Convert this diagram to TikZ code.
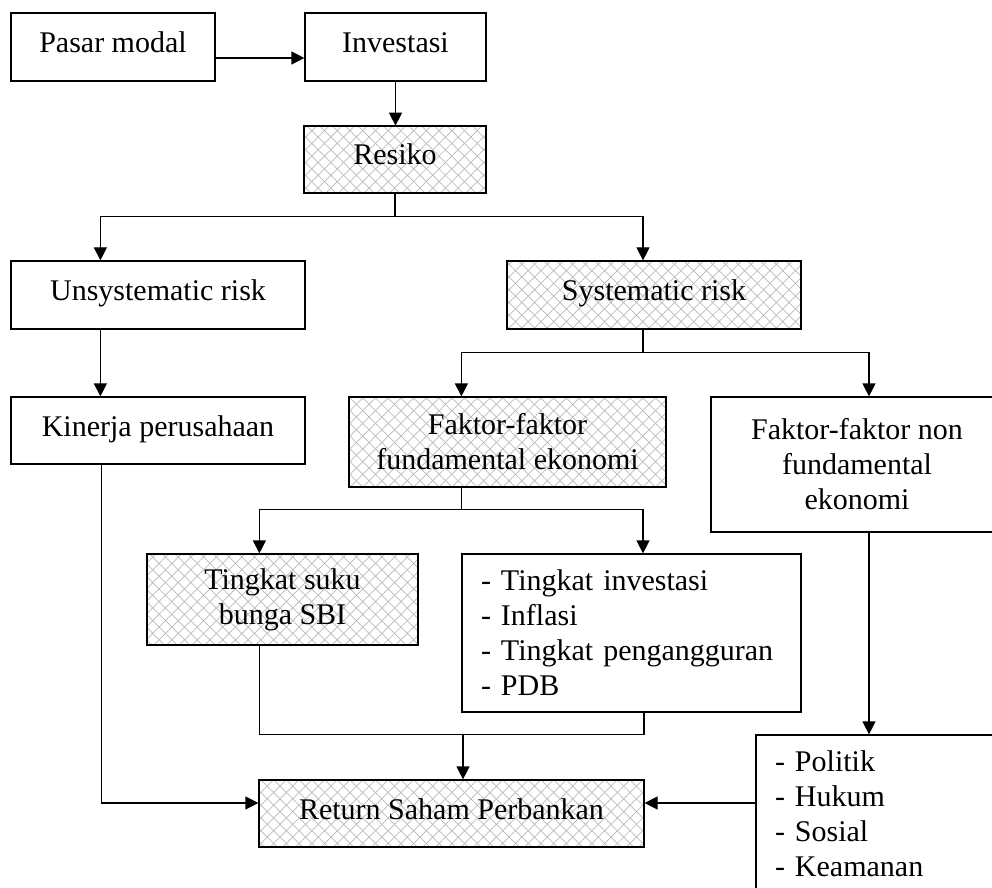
\documentclass[tikz,border=0pt]{standalone}
\usepackage{fontspec}
\setmainfont{Liberation Serif}
\usetikzlibrary{arrows.meta, patterns.meta}

\begin{document}
\begin{tikzpicture}[x=0.5pt, y=-0.5pt, font=\fontsize{15}{17.5}\selectfont,
    box/.style={draw, line width=0.6pt, inner sep=2pt, align=center},
    one/.style={text height=10.5pt, text depth=5pt},
    hatch/.style={box, pattern={Lines[angle=45, distance=4.5pt, line width=0.35pt]}, pattern color=gray!55,
        preaction={pattern={Lines[angle=-45, distance=4.5pt, line width=0.35pt]}, pattern color=gray!55}},
    listbox/.style={draw, line width=0.6pt, inner xsep=9.5pt, inner ysep=2pt, align=left},
    arr/.style={line width=0.6pt, -{Triangle[length=6.5pt, width=6.5pt]}},
    ln/.style={line width=0.6pt}]
    \clip (0,0) rectangle (992,888);
            \node[box, one, minimum width=102pt, minimum height=34pt] (pasar) at (113,47) {Pasar modal};
            \node[box, one, minimum width=90.5pt, minimum height=34pt] (invest) at (395.5,47) {Investasi};
            \node[hatch, one, minimum width=91pt, minimum height=33.5pt] (resiko) at (395,159.5) {Resiko};
            \node[box, one, minimum width=147pt, minimum height=34pt] (unsys) at (158,295) {Unsystematic risk};
            \node[hatch, one, minimum width=147pt, minimum height=34pt] (sys) at (654,295) {Systematic risk};
            \node[box, one, minimum width=147pt, minimum height=33.5pt] (kinerja) at (158,430.5) {Kinerja perusahaan};
            \node[hatch, minimum width=158.5pt, minimum height=45pt] (fund) at (507.5,442) {Faktor-faktor\\fundamental ekonomi};
            \node[box, minimum width=146pt, minimum height=67.5pt] (nonfund) at (857,464.5) {Faktor-faktor non\\fundamental\\ekonomi};
            \node[hatch, minimum width=135.5pt, minimum height=45.5pt] (sbi) at (282.5,599.5) {Tingkat suku\\bunga SBI};
            \node[listbox, text width=150.5pt, minimum height=79pt] (makro) at (631.5,633) {- Tingkat investasi\\- Inflasi\\- Tingkat pengangguran\\- PDB};
            \node[hatch, one, minimum width=192.5pt, minimum height=33.5pt] (ret) at (451.5,813.5) {Return Saham Perbankan};
            \node[listbox, text width=108pt, minimum height=79pt] (nonmakro) at (883,814) {- Politik\\- Hukum\\- Sosial\\- Keamanan};
            % top row
            \draw[arr] ([yshift=-5.5pt]pasar.east) -- ([yshift=-5.5pt]invest.west);
            \draw[arr] (invest.south) -- (invest.south |- resiko.north);
            % risk split
            \draw[arr] (resiko.south) -- ++(0,23) -| ([xshift=45pt]unsys.north west);
            \draw[arr] (resiko.south) -- ++(0,23) -| ([xshift=-5.5pt]sys.north);
            \draw[arr] ([xshift=45pt]unsys.south west) -- ([xshift=45pt]kinerja.north west);
            % systematic split
            \draw[arr] ([xshift=-5.5pt]sys.south) -- ++(0,23) -| ([xshift=56.5pt]fund.north west);
            \draw[arr] ([xshift=-5.5pt]sys.south) -- ++(0,23) -| ([xshift=6pt]nonfund.north);
            % fundamental split
            \draw[arr] ([xshift=56.5pt]fund.south west) -- ++(0,22) -| ([xshift=56.5pt]sbi.north west);
            \draw[arr] ([xshift=56.5pt]fund.south west) -- ++(0,22) -| ([xshift=5.75pt]makro.north);
            % into return
            \coordinate (mrg) at ([xshift=5.75pt, yshift=22.5pt]ret.north);
            \draw[ln] ([xshift=56.5pt]sbi.south west) |- (mrg) -| ([xshift=6.25pt]makro.south);
            \draw[arr] (mrg) -- ([xshift=5.75pt]ret.north);
            \draw[arr] ([xshift=45.5pt]kinerja.south west) |- ([yshift=5.25pt]ret.west);
            \draw[arr] ([xshift=6pt]nonfund.south) -- ([xshift=6pt]nonfund.south |- nonmakro.north);
            \draw[arr] ([yshift=5.25pt]ret.east -| nonmakro.west) -- ([yshift=5.25pt]ret.east);
\end{tikzpicture}
\end{document}
